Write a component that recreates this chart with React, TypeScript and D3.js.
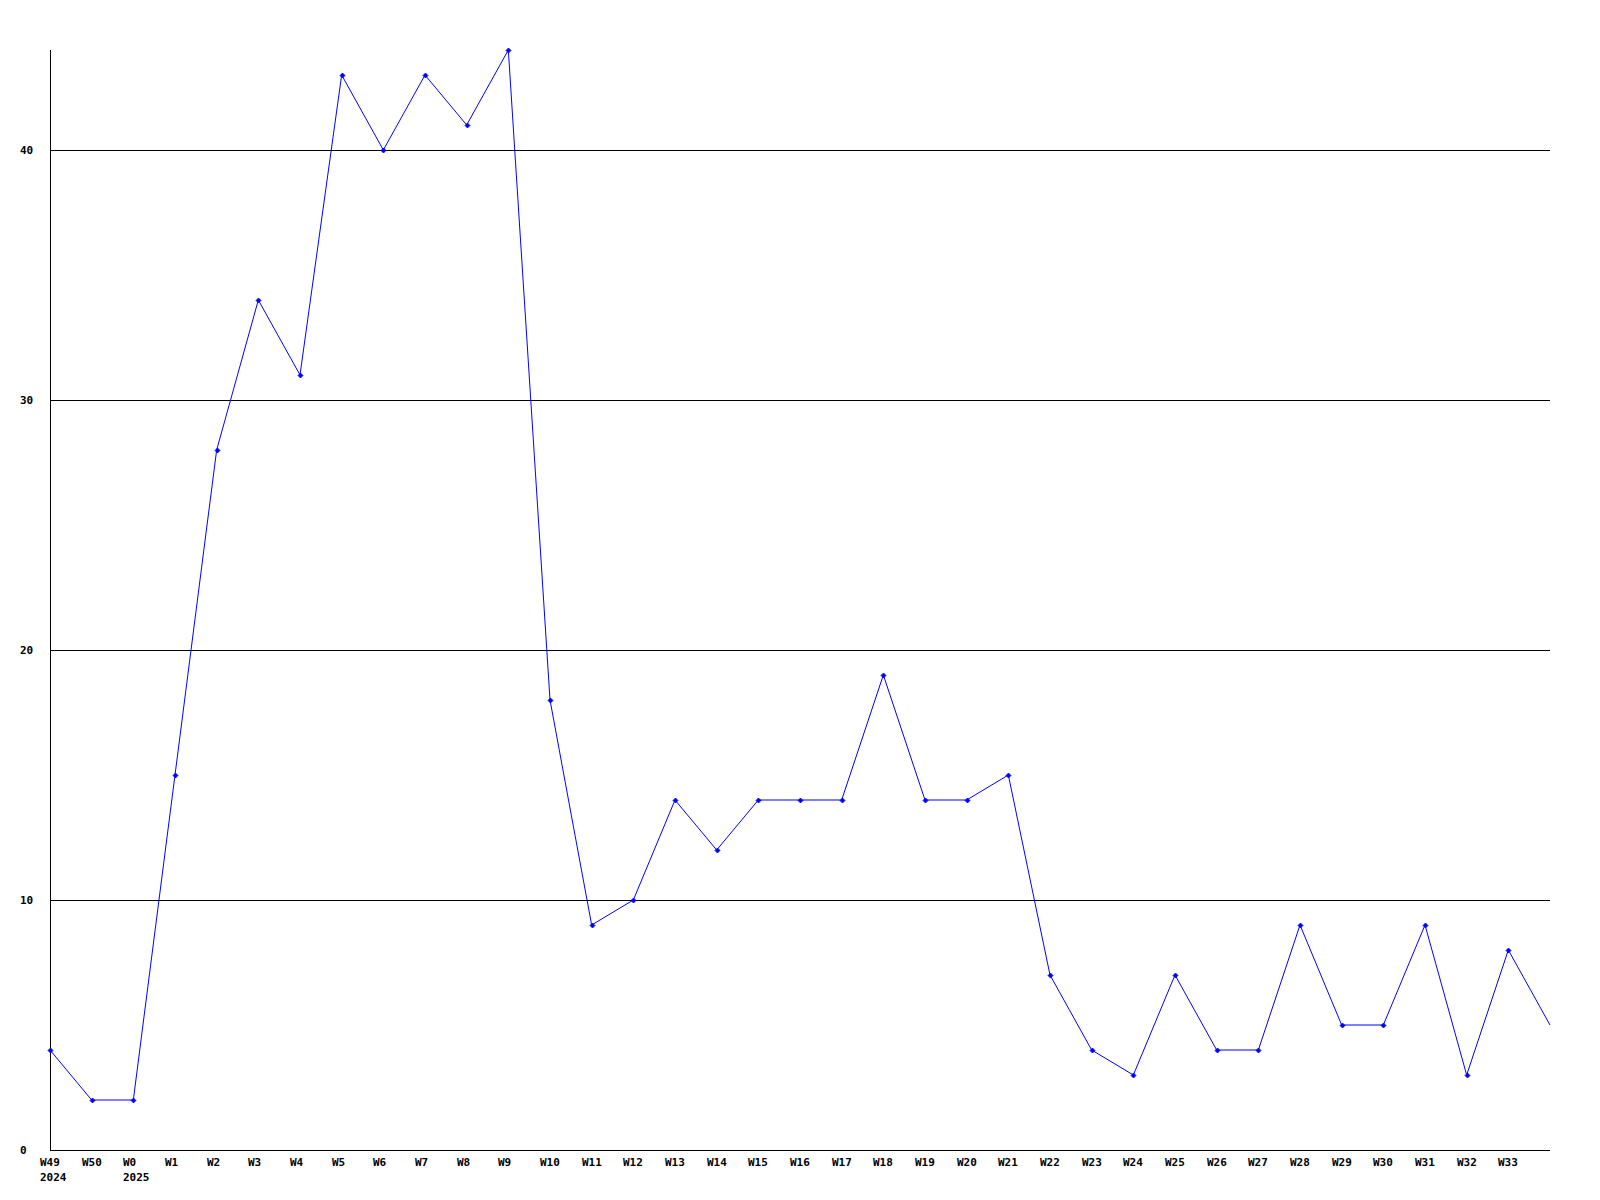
import React from "react";
import * as d3 from "d3";

const weekLabels = [
  "W49", "W50", "W0", "W1", "W2", "W3", "W4", "W5", "W6", "W7", "W8", "W9",
  "W10", "W11", "W12", "W13", "W14", "W15", "W16", "W17", "W18", "W19", "W20",
  "W21", "W22", "W23", "W24", "W25", "W26", "W27", "W28", "W29", "W30", "W31",
  "W32", "W33", "",
];
const yearLabels: Record<string, string> = { W49: "2024", W0: "2025" };
const values = [
  4, 2, 2, 15, 28, 34, 31, 43, 40, 43, 41, 44, 18, 9, 10, 14, 12, 14, 14, 14,
  19, 14, 14, 15, 7, 4, 3, 7, 4, 4, 9, 5, 5, 9, 3, 8, 5,
];
const yTicks = [0, 10, 20, 30, 40];

export default function App() {
  const W = 1600, H = 1200;
  const left = 50, right = 1550, top = 50, bottom = 1150;
  const x = d3.scaleLinear().domain([0, values.length - 1]).range([left, right]);
  const y = d3.scaleLinear().domain([0, 44]).range([bottom, top]);
  const line = d3.line<number>().x((_, i) => x(i)).y((d) => y(d));
  const font = { fontFamily: "'DejaVu Sans Mono', monospace", fontWeight: 700, fontSize: 11 };
  return (
    <svg width={W} height={H} style={{ position: "absolute", left: 0, top: 0, background: "#fff" }}>
      <rect x={0} y={0} width={W} height={H} fill="#fff" />
      {yTicks.filter((t) => t > 0).map((t) => (
        <line key={t} x1={left} x2={right} y1={Math.round(y(t)) + 0.5} y2={Math.round(y(t)) + 0.5} stroke="#000" strokeWidth={1} shapeRendering="crispEdges" />
      ))}
      <line x1={left + 0.5} x2={left + 0.5} y1={top} y2={bottom} stroke="#000" shapeRendering="crispEdges" />
      <line x1={left} x2={right} y1={bottom + 0.5} y2={bottom + 0.5} stroke="#000" shapeRendering="crispEdges" />
      {yTicks.map((t) => (
        <text key={t} x={20} y={Math.round(y(t)) + 4} {...font} fill="#000">{t}</text>
      ))}
      {weekLabels.map((w, i) => w ? (
        <g key={i}>
          <text x={Math.round(x(i)) - 10} y={1166} {...font} fill="#000">{w}</text>
          {yearLabels[w] && <text x={Math.round(x(i)) - 10} y={1181} {...font} fill="#000">{yearLabels[w]}</text>}
        </g>
      ) : null)}
      <path d={line(values) || ""} fill="none" stroke="#0000ff" strokeWidth={1} />
      {values.slice(0, values.length - 1).map((v, i) => {
        const cx = Math.round(x(i)) + 0.5, cy = Math.round(y(v)) + 0.5;
        return (
          <path key={i} d={`M${cx - 2.5},${cy}L${cx},${cy - 2.5}L${cx + 2.5},${cy}L${cx},${cy + 2.5}Z`} fill="#0000ff" stroke="#0000ff" strokeWidth={0.8} />
        );
      })}
    </svg>
  );
}
